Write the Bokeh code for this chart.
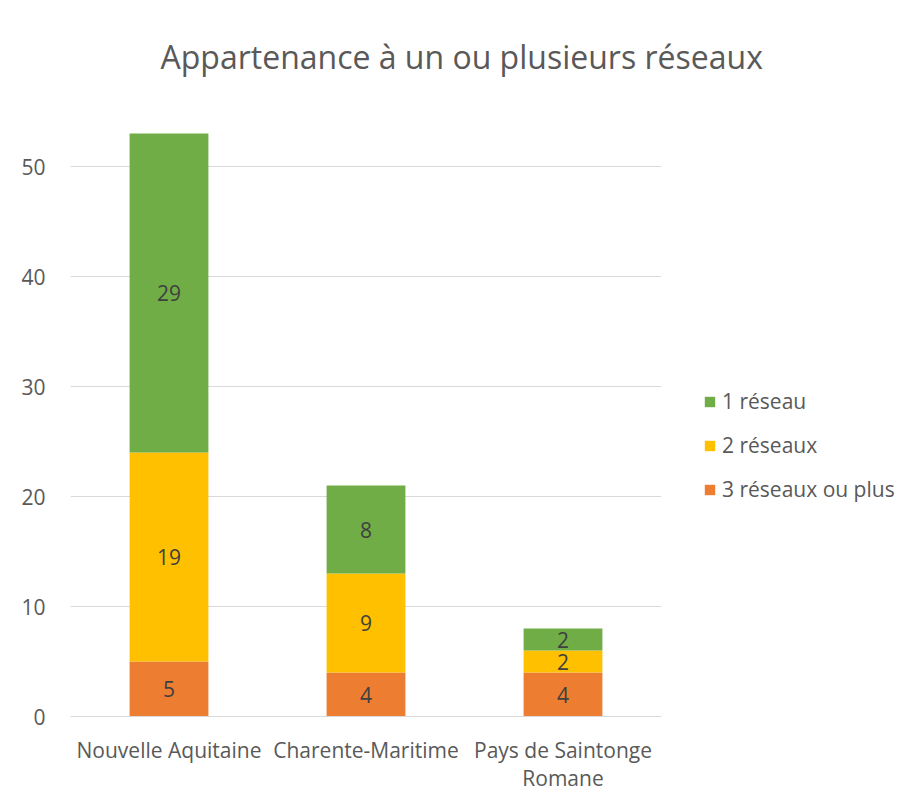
from bokeh.plotting import figure
from bokeh.models import (ColumnDataSource, FactorRange, Range1d, Legend, LegendItem,
                          LabelSet, FixedTicker)
from bokeh.core.properties import value
from bokeh.embed import file_html
from bokeh.resources import INLINE

categories = ["Nouvelle Aquitaine", "Charente-Maritime", "Pays de Saintonge\nRomane"]
series = ["3 réseaux ou plus", "2 réseaux", "1 réseau"]
v3plus = [5, 4, 4]
v2 = [19, 9, 2]
v1 = [29, 8, 2]
colors = ["#ED7D31", "#FFC000", "#70AD47"]
y_ticks = [0, 10, 20, 30, 40, 50]
title_text = "Appartenance à un ou plusieurs réseaux"

FONT = "Open Sans"
TXT = "#595959"
FS = "21px"

data = {"cat": categories, series[0]: v3plus, series[1]: v2, series[2]: v1}
src = ColumnDataSource(data)

p = figure(x_range=FactorRange(*categories, range_padding=0), y_range=Range1d(0, 55),
           width=899, height=793, frame_width=591, frame_height=605,
           min_border_left=70, min_border_right=238, min_border_top=111, min_border_bottom=77,
           output_backend="svg", toolbar_location=None, tools="")
p.outline_line_color = None
p.background_fill_color = "white"

rs = p.vbar_stack(series, x="cat", width=0.4, color=colors, source=src, line_color=None)

# data labels
vals = [v3plus, v2, v1]
bottoms = [0, 0, 0]
for vs in vals:
    mids = [b + v / 2 for b, v in zip(bottoms, vs)]
    lsrc = ColumnDataSource(dict(cat=categories, y=mids, t=[str(v) for v in vs]))
    p.add_layout(LabelSet(x="cat", y="y", text="t", source=lsrc, text_align="center",
                          text_baseline="middle", text_font=value(FONT),
                          text_font_size=value(FS), text_color="#404040"))
    bottoms = [b + v for b, v in zip(bottoms, vs)]

# axes
p.yaxis.ticker = FixedTicker(ticks=y_ticks)
p.yaxis.axis_line_color = None
p.yaxis.major_tick_line_color = None
p.yaxis.minor_tick_line_color = None
p.yaxis.major_label_standoff = 19
p.yaxis.major_label_text_font = FONT
p.yaxis.major_label_text_font_size = FS
p.yaxis.major_label_text_color = TXT

p.xaxis.axis_line_color = "#D9D9D9"
p.xaxis.axis_line_width = 1
p.xaxis.major_tick_line_color = None
p.xaxis.minor_tick_line_color = None
p.xaxis.major_label_standoff = 13
p.xaxis.major_label_text_font = FONT
p.xaxis.major_label_text_font_size = FS
p.xaxis.major_label_text_color = TXT
p.xaxis.major_label_text_line_height = 1.0

p.xgrid.grid_line_color = None
p.ygrid.grid_line_color = "#D9D9D9"
p.ygrid.grid_line_width = 1

# legend
items = [LegendItem(label=series[i], renderers=[rs[i]]) for i in (2, 1, 0)]
leg = Legend(items=items, location=(42, 213), orientation="vertical",
             glyph_width=13, glyph_height=13, label_height=20, spacing=16,
             label_standoff=6, padding=0, margin=0,
             border_line_color=None, background_fill_alpha=0,
             label_text_font=FONT, label_text_font_size=FS, label_text_color=TXT)
p.add_layout(leg, "right")

# title
p.title.text = title_text
p.title.align = "left"
p.title.offset = 90
p.title.text_font = FONT
p.title.text_font_size = "32px"
p.title.text_font_style = "normal"
p.title.text_color = TXT
p.title.vertical_align = "middle"
p.title.standoff = 66

open("out.html", "w").write(file_html(p, INLINE))
